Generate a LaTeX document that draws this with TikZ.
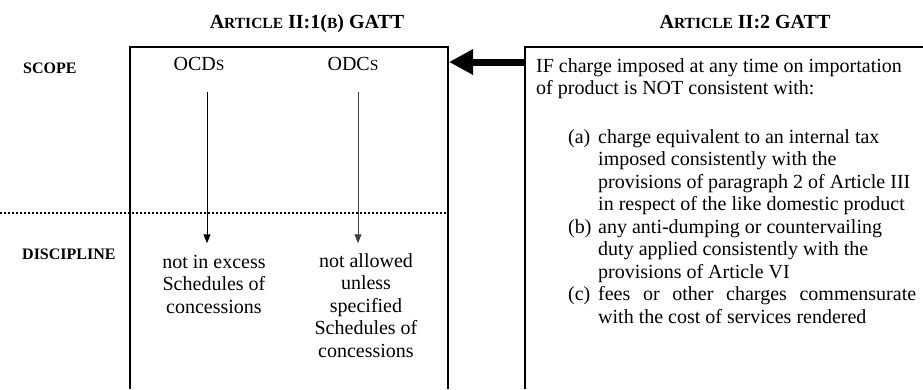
\documentclass[tikz,border=0pt]{standalone}
\usepackage{fontspec}
\setmainfont{Liberation Serif}
\usetikzlibrary{arrows.meta}

\newcommand\smcap[1]{{\fontsize{15.5pt}{15.5pt}\selectfont #1}}

\begin{document}
\begin{tikzpicture}[x=1pt,y=-1pt,
  every node/.style={font=\fontsize{20pt}{22.5pt}\selectfont,inner sep=0pt},
  head/.style={font=\fontsize{20pt}{22.5pt}\selectfont\bfseries,anchor=base},
  side/.style={font=\fontsize{16pt}{18pt}\selectfont\bfseries,anchor=base west},
  flow/.style={line width=1pt,-{Triangle[length=9pt,width=7pt]}}]

\useasboundingbox (0,0) rectangle (923,389);

% Define coordinates.
\coordinate (lbb) at (130,389);   %left box, bottom left
\coordinate (lbt) at (130,47);
\coordinate (lrt) at (448,47);
\coordinate (lrb) at (448,389);
\coordinate (rbb) at (525,389);   %right box, bottom left
\coordinate (rbt) at (525,47);
\coordinate (rrt) at (925,47);
\coordinate (ocdtop) at (207,92);
\coordinate (odctop) at (358,92);
\coordinate (arrtail) at (525,62);
\coordinate (arrtip) at (449,62);
\coordinate (dotl) at (0,213);
\coordinate (dotr) at (448,213);

% Boxes, open at the bottom.
\draw[line width=1.5pt] (lbb) -- (lbt) -- (lrt) -- (lrb);
\draw[line width=1.5pt] (rbb) -- (rbt) -- (rrt);

% Scope / discipline divider.
\draw[dotted,line width=2pt] (dotl) -- (dotr);

% Headings.
\node[head] (art1) at (307,28) {A\smcap{RTICLE} II:1(\smcap{B}) GATT};
\node[head] (art2) at (745,28) {A\smcap{RTICLE} II:2 GATT};
\node[side] (scope) at (23,73) {SCOPE};
\node[side] (disc) at (22,259) {DISCIPLINE};

% Left box contents.
\node[anchor=base] (ocd) at (199,70) {OCD\smcap{S}};
\node[anchor=base] (odc) at (353,70) {ODC\smcap{S}};
\node[anchor=north,align=center] (exc) at (214,252.25)
  {\strut not in excess\\Schedules of\\concessions};
\node[anchor=north,align=center] (alw) at (366,251.25)
  {\strut not allowed\\unless\\specified\\Schedules of\\concessions};

\draw[flow,shorten >=9pt] (ocdtop) -- (ocdtop |- exc.north);
\draw[flow,black!75,shorten >=8pt] (odctop) -- (odctop |- alw.north);

% Right box contents.
\node[anchor=north west,text width=380pt,align=justify] (cond) at (536,56.25)
  {\strut IF charge imposed at any time on importation\newline
   of product is NOT consistent with:\par\vspace{26pt}
   \noindent\hangindent=62pt\hangafter=1\hspace*{32pt}\makebox[30pt][l]{(a)}charge
   equivalent to an internal tax\newline imposed consistently with the\newline
   provisions of paragraph 2 of Article III\newline
   in respect of the like domestic product\par
   \noindent\hangindent=62pt\hangafter=1\hspace*{32pt}\makebox[30pt][l]{(b)}any
   anti-dumping or countervailing\newline duty applied consistently with the\newline
   provisions of Article VI\par
   \noindent\hangindent=62pt\hangafter=1\hspace*{32pt}\makebox[30pt][l]{(c)}fees
   or other charges commensurate\linebreak with the cost of services rendered\par};

\draw[line width=7pt,-{Triangle[length=24pt,width=24pt]}] (arrtail) -- (arrtip);

\end{tikzpicture}
\end{document}
